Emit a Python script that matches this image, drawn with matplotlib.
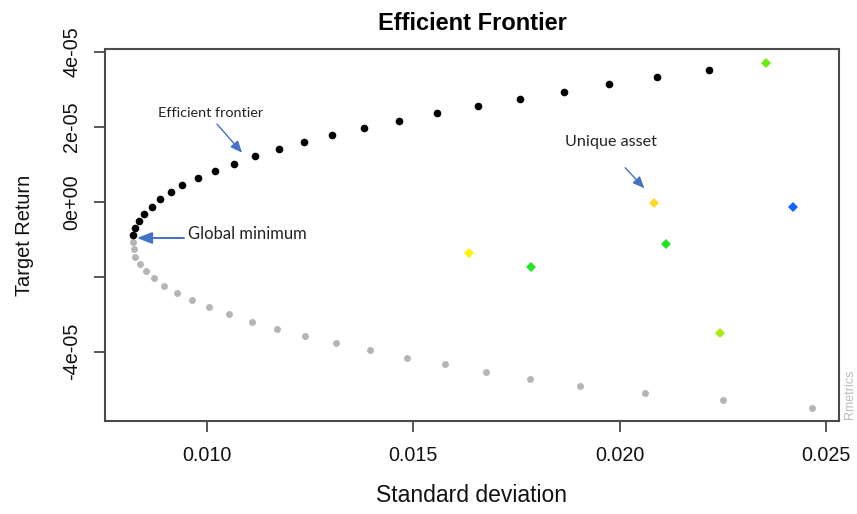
import matplotlib
matplotlib.use("Agg")
import matplotlib.pyplot as plt

# Efficient part of the frontier (standard deviation, target return)
frontier_sd = [0.008190, 0.008239, 0.008336, 0.008472, 0.008659, 0.008860,
               0.009112, 0.009394, 0.009767, 0.010179, 0.010648, 0.011164,
               0.011732, 0.012338, 0.013025, 0.013808, 0.014657, 0.015579,
               0.016559, 0.017578, 0.018645, 0.019744, 0.020915, 0.022169]
frontier_ret = [-8.88e-6, -7.09e-6, -5.15e-6, -3.20e-6, -1.33e-6, 0.64e-6,
                2.51e-6, 4.45e-6, 6.40e-6, 8.27e-6, 10.13e-6, 12.11e-6,
                13.97e-6, 15.92e-6, 17.79e-6, 19.73e-6, 21.60e-6, 23.57e-6,
                25.44e-6, 27.39e-6, 29.33e-6, 31.31e-6, 33.17e-6, 35.04e-6]

# Inefficient (lower) branch of the frontier
lower_sd = [0.008205, 0.008220, 0.008254, 0.008360, 0.008506, 0.008700,
            0.008950, 0.009258, 0.009622, 0.010049, 0.010534, 0.011084,
            0.011691, 0.012370, 0.013129, 0.013946, 0.014837, 0.015773,
            0.016767, 0.017827, 0.019040, 0.020617, 0.022509, 0.024667]
lower_ret = [-10.75e-6, -12.61e-6, -14.67e-6, -16.61e-6, -18.56e-6, -20.43e-6,
             -22.40e-6, -24.35e-6, -26.21e-6, -28.08e-6, -30.03e-6, -32.00e-6,
             -33.87e-6, -35.81e-6, -37.68e-6, -39.63e-6, -41.60e-6, -43.36e-6,
             -45.33e-6, -47.28e-6, -49.15e-6, -51.01e-6, -52.96e-6, -54.93e-6]

# Single assets
asset_sd = [0.023559, 0.020828, 0.024214, 0.021126, 0.016341, 0.017859, 0.022436]
asset_ret = [36.99e-6, -0.27e-6, -1.33e-6, -11.36e-6, -13.60e-6, -17.49e-6, -35.09e-6]
asset_colors = ["#6CEB10", "#FFD82A", "#1463FF", "#1EE61E", "#FFF200", "#22E622", "#A3EE0E"]

x_ticks = [0.010, 0.015, 0.020, 0.025]
x_tick_labels = ["0.010", "0.015", "0.020", "0.025"]
y_ticks = [-4e-5, -2e-5, 0.0, 2e-5, 4e-5]
y_tick_labels = ["-4e-05", "", "0e+00", "2e-05", "4e-05"]

plt.rcParams["font.family"] = ["Liberation Sans", "DejaVu Sans"]

fig = plt.figure(figsize=(8.57, 5.14), dpi=100)
ax = fig.add_axes([105 / 857, 1 - 421 / 514, (839 - 105) / 857, (421 - 49) / 514])

ax.plot(lower_sd, lower_ret, "o", color="#B5B5B5", markersize=5.0, markeredgewidth=0)
ax.plot(frontier_sd, frontier_ret, "o", color="black", markersize=5.5, markeredgewidth=0)
for sd, r, c in zip(asset_sd, asset_ret, asset_colors):
    ax.plot(sd, r, "D", color=c, markersize=5.6, markeredgewidth=0)

ax.set_xlim(0.007519, 0.025322)
ax.set_ylim(-5.848e-5, 4.072e-5)

ax.set_xticks(x_ticks)
ax.set_xticklabels(x_tick_labels)
ax.set_yticks(y_ticks)
ax.set_yticklabels(y_tick_labels, rotation=90, va="center")

frame_col = "#4A4A4A"
for s in ax.spines.values():
    s.set_color(frame_col)
    s.set_linewidth(1.5)
ax.tick_params(axis="both", direction="out", length=8, width=1.3, colors=frame_col,
               labelcolor="#111111", labelsize=14.2)
ax.tick_params(axis="x", pad=10)
ax.tick_params(axis="y", pad=9)

ax.set_title("Efficient Frontier", fontsize=17, fontweight="bold", pad=14)
ax.set_xlabel("Standard deviation", fontsize=16.5, labelpad=14, color="#111111")
ax.set_ylabel("Target Return", fontsize=14.4, labelpad=20.5, color="#111111")

arrow_col = "#4472C4"
note_font = ["Lato", "DejaVu Sans"]

ax.annotate("", xy=(0.010842, 13.07e-6), xytext=(0.010235, 20.72e-6),
            arrowprops=dict(arrowstyle="-|>,head_length=0.7,head_width=0.3",
                            color=arrow_col, lw=1.0, shrinkA=0, shrinkB=0))
ax.text(0.010073, 23.65e-6, "Efficient frontier", fontsize=10.4, family=note_font,
        ha="center", va="center", color="#222222")

ax.annotate("", xy=(0.008295, -9.68e-6), xytext=(0.009435, -9.68e-6),
            arrowprops=dict(arrowstyle="-|>,head_length=0.9,head_width=0.35",
                            color=arrow_col, lw=1.4, shrinkA=0, shrinkB=0))
ax.text(0.009534, -8.61e-6, "Global minimum", fontsize=11.9, family=note_font,
        ha="left", va="center", color="#222222")

ax.annotate("", xy=(0.020600, 3.57e-6), xytext=(0.020136, 9.07e-6),
            arrowprops=dict(arrowstyle="-|>,head_length=0.7,head_width=0.3",
                            color=arrow_col, lw=1.0, shrinkA=0, shrinkB=0))
ax.text(0.019796, 16.0e-6, "Unique asset", fontsize=11.6, family=note_font,
        ha="center", va="center", color="#222222")

fig.text(850 / 857, 1 - 394 / 514, "Rmetrics", rotation=90, fontsize=9,
         color="#BBBBBB", ha="center", va="center")

fig.savefig("out.png", dpi=100)
